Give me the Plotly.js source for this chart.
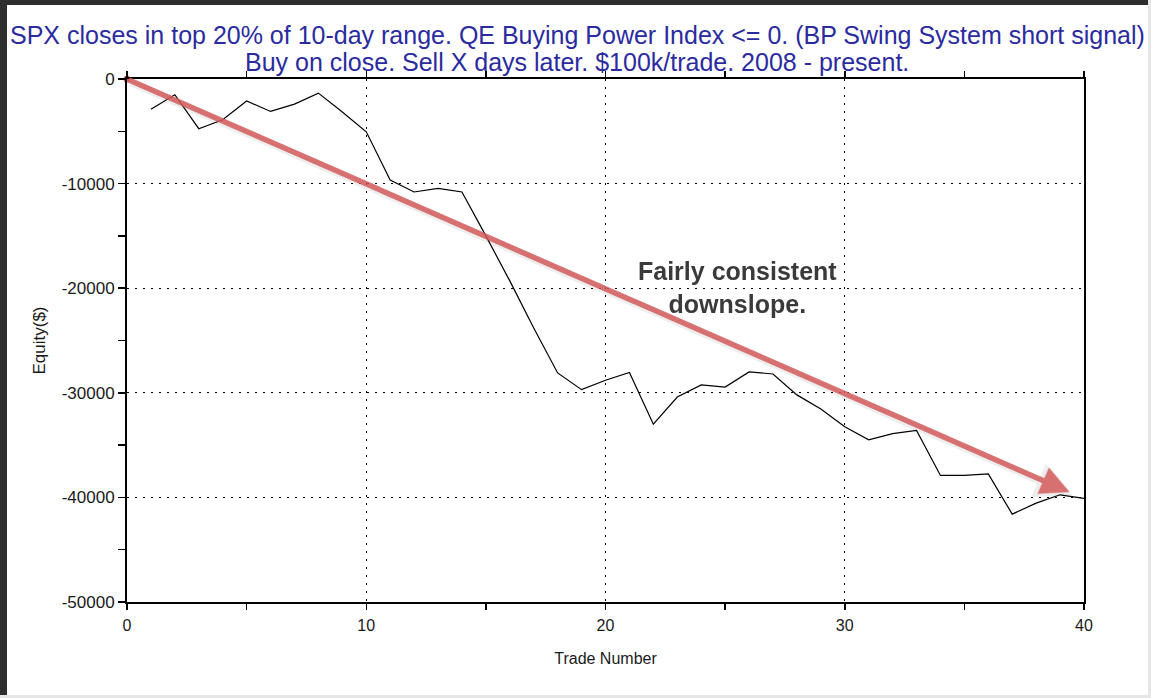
<!DOCTYPE html>
<html>
<head>
<meta charset="utf-8">
<script src="https://cdn.plot.ly/plotly-3.0.1.min.js"></script>
<style>
html,body{margin:0;padding:0;background:#fff;}
#wrap{position:relative;width:1151px;height:698px;overflow:hidden;}
#chart{position:absolute;left:0;top:0;width:1151px;height:698px;}
.fl{position:absolute;left:0;top:0;width:7px;height:698px;background:#2e2e2e;}
.ft{position:absolute;left:0;top:0;width:1151px;height:5px;background:#2e2e2e;}
.fb{position:absolute;left:0;bottom:0;width:1151px;height:3px;background:#e6e6e6;}
.fr{position:absolute;right:0;top:0;width:3px;height:698px;background:#e6e6e6;}
</style>
</head>
<body>
<div id="wrap">
<div id="chart"></div>
<div class="fl"></div><div class="ft"></div><div class="fb"></div><div class="fr"></div>
</div>
<script>
// Trade numbers and equity values
const tradeNumber = [1,2,3,4,5,6,7,8,9,10,11,12,13,14,15,16,17,18,19,20,21,22,23,24,25,26,27,28,29,30,31,32,33,34,35,36,37,38,39,40];
const equity = [-2900,-1500,-4750,-3900,-2100,-3100,-2400,-1350,-3150,-5050,-9650,-10800,-10450,-10800,-15000,-19300,-23800,-28100,-29700,-28800,-28050,-33000,-30400,-29250,-29450,-28000,-28200,-30200,-31550,-33250,-34500,-33900,-33600,-37900,-37900,-37750,-41600,-40550,-39750,-40100];

const titleLines = ["SPX closes in top 20% of 10-day range. QE Buying Power Index <= 0. (BP Swing System short signal)",
                    "Buy on close. Sell X days later. $100k/trade. 2008 - present."];
const xTitle = "Trade Number";
const yTitle = "Equity($)";
const noteText = "Fairly consistent<br>downslope.";
const arrowStart = [0, 0];
const arrowEnd = [39.4, -39500];
const notePos = [25.5, -19950];

const trace = {
  x: tradeNumber, y: equity, type: 'scatter', mode: 'lines',
  line: {color: '#000', width: 1.2}, hoverinfo: 'skip'
};
const startDot = {
  x: [arrowStart[0]], y: [arrowStart[1]], type: 'scatter', mode: 'markers',
  marker: {color: 'rgba(208,92,92,0.9)', size: 7}, hoverinfo: 'skip', cliponaxis: false
};

const fontFam = 'Liberation Sans, Arial, sans-serif';
const titleColor = '#2b2ba0';
const labelColor = '#1a1a1a';

const layout = {
  width: 1151, height: 698,
  paper_bgcolor: 'rgba(0,0,0,0)', plot_bgcolor: '#fff',
  margin: {l: 127, r: 67, t: 79, b: 96},
  showlegend: false,
  font: {family: fontFam, color: '#000'},
  xaxis: {
    range: [0, 40], tickvals: [0,10,20,30,40], ticktext: ['0','10','20','30','40'],
    ticks: 'outside', ticklen: 0, tickcolor: '#000', ticklabelstandoff: 8,
    minor: {dtick: 5, tick0: 0, ticks: 'outside', ticklen: 6, tickcolor: '#000', tickwidth: 1.5, showgrid: false},
    showline: true, linecolor: '#000', linewidth: 2, mirror: 'ticks',
    showgrid: true, gridcolor: '#000', gridwidth: 1.3, griddash: '1.5px,6.5px',
    zeroline: false, tickfont: {size: 16, color: labelColor},
    title: {text: xTitle, font: {size: 16, color: labelColor}, standoff: 20}
  },
  yaxis: {
    range: [-50000, 0], tickvals: [0,-10000,-20000,-30000,-40000,-50000],
    ticktext: ['0','-10000','-20000','-30000','-40000','-50000'],
    ticks: 'outside', ticklen: 7, tickwidth: 1.5, tickcolor: '#000',
    minor: {dtick: 5000, tick0: 0, ticks: 'outside', ticklen: 7, tickcolor: '#000', tickwidth: 1.5, showgrid: false},
    showline: true, linecolor: '#000', linewidth: 2, mirror: true,
    showgrid: true, gridcolor: '#000', gridwidth: 1.3, griddash: '1.5px,6.5px',
    zeroline: false, tickfont: {size: 17, color: labelColor},
    title: {text: yTitle, font: {size: 17, color: labelColor}, standoff: 12}
  },
  annotations: [
    {x: 0.4705, y: 1.084, xref: 'paper', yref: 'paper', xanchor: 'center', yanchor: 'middle',
     text: titleLines[0], showarrow: false, font: {size: 25, color: titleColor, family: fontFam}},
    {x: 0.4705, y: 1.0325, xref: 'paper', yref: 'paper', xanchor: 'center', yanchor: 'middle',
     text: titleLines[1], showarrow: false, font: {size: 25, color: titleColor, family: fontFam}},
    {x: arrowEnd[0]+0.1, y: arrowEnd[1]-300, ax: arrowStart[0]+0.1, ay: arrowStart[1]-300, xref: 'x', yref: 'y', axref: 'x', ayref: 'y',
     text: '', showarrow: true, arrowhead: 2, arrowsize: 1.05, arrowwidth: 7,
     arrowcolor: 'rgba(0,0,0,0.07)', standoff: 0, startstandoff: 0},
    {x: arrowEnd[0], y: arrowEnd[1], ax: arrowStart[0], ay: arrowStart[1], xref: 'x', yref: 'y', axref: 'x', ayref: 'y',
     text: '', showarrow: true, arrowhead: 2, arrowsize: 1.05, arrowwidth: 5.5,
     arrowcolor: 'rgba(210,90,90,0.85)', standoff: 0, startstandoff: 0},
    {x: notePos[0], y: notePos[1], xref: 'x', yref: 'y', text: noteText, showarrow: false,
     font: {size: 25, color: '#3a3a3a', family: fontFam, weight: 'bold'},
     align: 'center'}
  ]
};

Plotly.newPlot('chart', [trace, startDot], layout, {displayModeBar: false, staticPlot: true});
</script>
</body>
</html>
